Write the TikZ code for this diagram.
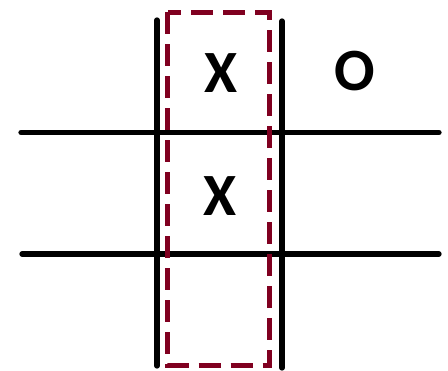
\documentclass[tikz,border=0pt]{standalone}
\usepackage{fontspec}
\setmainfont{Carlito}
\definecolor{boxred}{RGB}{128,0,32}
\begin{document}
\begin{tikzpicture}[x=1pt,y=-1pt,
  gridline/.style={line width=5.3pt,line cap=round,black},
  hilite/.style={line width=5pt,boxred,dash pattern=on 22pt off 10pt,dash phase=0pt},
  playmark/.style={font=\fontsize{60}{60}\selectfont\bfseries,inner sep=0pt,anchor=center}]
\useasboundingbox (0,0) rectangle (448,371);
% grid
\coordinate (v1t) at (157,20);
\coordinate (v1b) at (157,366);
\coordinate (v2t) at (282,21);
\coordinate (v2b) at (282,368);
\coordinate (h1l) at (21,132.5);
\coordinate (h1r) at (439,132.5);
\coordinate (h2l) at (22,254);
\coordinate (h2r) at (439,254);
\draw[gridline] (v1t) -- (v1b);
\draw[gridline] (v2t) -- (v2b);
\draw[gridline] (h1l) -- (h1r);
\draw[gridline] (h2l) -- (h2r);
% highlighted column
\coordinate (rtl) at (167.5,12.5);
\coordinate (rbr) at (269,365.5);
\draw[hilite] (rtl) rectangle (rbr);
% marks
\node[playmark] (x1) at (221,73) {X};
\node[playmark] (x2) at (220,196) {X};
\node[playmark] (o1) at (355,71) {O};
\end{tikzpicture}
\end{document}
